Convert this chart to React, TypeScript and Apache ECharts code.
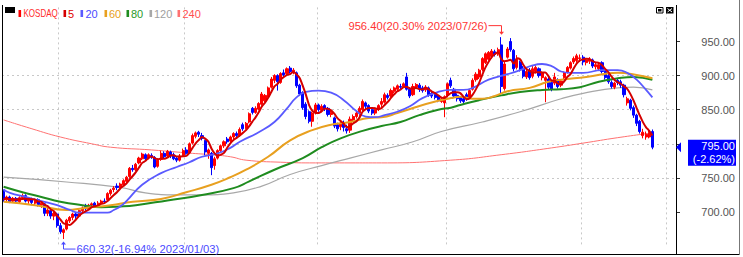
import React, { useEffect, useRef } from "react";
import * as echarts from "echarts";

// trading days shown (year/month -> days)
const dec22Days = [6, 7, 8, 9, 12, 13, 14, 15, 16, 19, 20, 21, 22, 23, 26, 27, 28, 29];
const jan23Days = [2, 3, 4, 5, 6, 9, 10, 11, 12, 13, 16, 17, 18, 19, 20, 25, 26, 27, 30, 31];
const feb23Days = [1, 2, 3, 6, 7, 8, 9, 10, 13, 14, 15, 16, 17, 20, 21, 22, 23, 24, 27, 28];
const mar23Days = [2, 3, 6, 7, 8, 9, 10, 13, 14, 15, 16, 17, 20, 21, 22, 23, 24, 27, 28, 29, 30, 31];
const apr23Days = [3, 4, 5, 6, 7, 10, 11, 12, 13, 14, 17, 18, 19, 20, 21, 24, 25, 26, 27, 28];
const may23Days = [2, 3, 4, 8, 9, 10, 11, 12, 15, 16, 17, 18, 19, 22, 23, 24, 25, 26, 30, 31];
const jun23Days = [1, 2, 5, 7, 8, 9, 12, 13, 14, 15, 16, 19, 20, 21, 22, 23, 26, 27, 28, 29, 30];
const jul23Days = [3, 4, 5, 6, 7, 10, 11, 12, 13, 14, 17, 18, 19, 20, 21, 24, 25, 26, 27, 28, 31];
const aug23Days = [1, 2, 3, 4, 7, 8, 9, 10, 11, 14, 16, 17, 18, 21, 22, 23, 24, 25, 28, 29, 30, 31];
const sep23Days = [1, 4, 5, 6, 7, 8, 11, 12, 13, 14, 15, 18, 19, 20, 21, 22, 25, 26, 27];
const oct23Days = [4, 5, 6, 10];
const emptySlots = 7;

// KOSDAQ daily candles: [open, close, low, high]
const dec22 = [
  [730, 718, 715, 733], [718, 722, 715, 724], [722, 715, 713, 724], [716, 720, 714, 722],
  [720, 716, 713, 722], [715, 721, 713, 723], [721, 724, 718, 727], [724, 716, 714, 726],
  [716, 719, 712, 721], [719, 714, 710, 721], [713, 718, 710, 720], [718, 711, 708, 720],
  [710, 713, 706, 716], [712, 698, 694, 713], [698, 703, 694, 706], [702, 694, 690, 704],
  [694, 698, 688, 700], [697, 680, 677, 699],
];
const jan23 = [
  [680, 671, 668, 684], [670, 674, 660.32, 676], [675, 688, 673, 690], [687, 692, 684, 694],
  [692, 697, 688, 699], [697, 694, 690, 700], [694, 702, 692, 704], [702, 706, 700, 708],
  [708, 705, 702, 712], [705, 710, 703, 712], [710, 712, 707, 714], [713, 709, 706, 715],
  [709, 713, 707, 716], [713, 716, 710, 718], [716, 715, 712, 720], [718, 727, 716, 729],
  [727, 732, 724, 734], [733, 735, 729, 738], [738, 736, 732, 742], [736, 741, 734, 743],
];
const feb23 = [
  [740, 746, 738, 748], [745, 751, 742, 753], [752, 764, 750, 766], [764, 762, 759, 769],
  [762, 770, 760, 772], [772, 779, 770, 781], [778, 785, 776, 787], [784, 778, 775, 786],
  [779, 784, 777, 786], [783, 781, 778, 786], [780, 766, 764, 782], [767, 776, 765, 779],
  [777, 786, 775, 790], [786, 781, 778, 789], [782, 789, 780, 791], [788, 782, 779, 790],
  [784, 778, 776, 787], [779, 776, 773, 782], [776, 782, 774, 785], [783, 790, 781, 793],
];
const mar23 = [
  [791, 786, 784, 795], [787, 800, 786, 802], [801, 812, 799, 815], [811, 816, 808, 818],
  [817, 814, 810, 819], [812, 808, 805, 816], [805, 788, 783, 806], [786, 791, 778, 793],
  [786, 765, 754, 788], [768, 778, 762, 781], [779, 790, 777, 792], [790, 797, 788, 799],
  [797, 803, 794, 805], [807, 803, 800, 810], [804, 810, 800, 812], [810, 815, 807, 817],
  [815, 812, 809, 818], [812, 821, 810, 824], [828, 822, 819, 831], [823, 830, 821, 832],
  [832, 844, 830, 846], [852, 846, 843, 854],
];
const apr23 = [
  [846, 852, 844, 855], [851, 859, 849, 861], [858, 873, 856, 876], [863, 871, 861, 873],
  [870, 882, 868, 884], [883, 895, 881, 898], [893, 900, 889, 902], [900, 891, 878, 902],
  [890, 903, 888, 905], [904, 901, 898, 909], [903, 910, 901, 912], [911, 906, 903, 914],
  [905, 908, 902, 911], [904, 885, 882, 906], [886, 873, 870, 888], [875, 853, 850, 877],
  [858, 840, 836, 861], [847, 833, 830, 849], [833, 845, 825, 847], [846, 857, 843, 860],
];
const may23 = [
  [857, 850, 847, 859], [849, 855, 846, 858], [856, 851, 848, 858], [852, 843, 840, 854],
  [843, 846, 839, 849], [838, 826, 823, 840], [828, 822, 818, 831], [825, 830, 820, 833],
  [831, 824, 818, 834], [822, 819, 815, 828], [820, 836, 816, 840], [835, 840, 832, 843],
  [840, 845, 837, 848], [845, 852, 841, 855], [850, 862, 847, 865], [860, 855, 850, 862],
  [856, 848, 845, 858], [850, 845, 842, 853], [845, 850, 842, 853], [851, 856, 848, 858],
];
const jun23 = [
  [858, 862, 854, 867], [861, 872, 859, 875], [871, 868, 865, 874], [870, 878, 868, 881],
  [877, 882, 874, 884], [880, 885, 876, 887], [884, 883, 880, 888], [884, 888, 882, 890],
  [898, 880, 878, 904], [880, 870, 867, 883], [872, 884, 870, 888], [883, 887, 881, 889],
  [886, 880, 876, 889], [882, 878, 875, 885], [879, 883, 876, 886], [882, 872, 869, 884],
  [874, 870, 867, 877], [872, 868, 865, 874], [870, 863, 861, 872], [862, 866, 860, 869],
  [860, 869, 839, 871],
];
const jul23 = [
  [871, 888, 868, 890], [893, 885, 882, 897], [880, 870, 867, 882], [871, 866, 862, 874],
  [868, 863, 860, 870], [866, 862, 859, 870], [872, 866, 863, 875], [868, 878, 866, 880],
  [880, 893, 878, 896], [894, 902, 891, 905], [898, 908, 895, 910], [909, 925, 906, 927],
  [919, 932, 917, 934], [924, 934, 922, 936], [928, 936, 925, 939], [935, 931, 928, 938],
  [932, 938, 929, 941], [945, 884, 874, 956.4], [881, 917, 878, 920], [927, 939, 925, 942],
  [950, 938, 935, 955],
];
const aug23 = [
  [937, 910, 906, 939], [912, 924, 909, 930], [920, 909, 906, 922], [911, 899, 896, 914],
  [898, 906, 895, 909], [908, 897, 894, 911], [899, 910, 896, 914], [906, 912, 903, 915],
  [910, 900, 897, 912], [897, 904, 893, 906], [893, 897, 861, 899], [895, 883, 880, 898],
  [890, 880, 877, 893], [889, 898, 886, 904], [894, 884, 881, 896], [886, 892, 883, 895],
  [897, 904, 895, 906], [905, 912, 903, 914], [911, 919, 909, 921], [920, 925, 917, 928],
  [922, 929, 919, 932], [925, 926, 920, 931],
];
const sep23 = [
  [927, 920, 915, 930], [919, 923, 915, 926], [921, 924, 917, 927], [923, 914, 911, 925],
  [913, 916, 909, 919], [910, 916, 907, 919], [919, 906, 903, 921], [906, 897, 894, 908],
  [900, 891, 888, 903], [890, 884, 881, 893], [883, 889, 880, 891], [893, 890, 886, 896],
  [891, 886, 882, 894], [886, 872, 868, 888], [860, 866, 856, 869], [864, 852, 849, 866],
  [853, 842, 838, 856], [842, 830, 826, 844], [833, 818, 815, 835],
];
const oct23 = [
  [812, 817, 808, 822], [810, 814, 806, 818], [810, 816.4, 808, 822], [818, 795, 792, 821],
];

// moving averages: [candle index, value]
const ma20Pts = [[0, 733], [2, 728], [7, 722], [12, 716], [17, 710], [21, 703], [24, 699], [28, 699], [33, 699], [35, 703], [37, 708], [39, 716], [44, 740], [50, 757], [55, 766], [59, 773], [63, 781], [68, 786], [72, 794], [75, 803], [81, 817], [86, 832], [90, 852], [93, 868], [96, 876], [100, 878], [104, 875], [108, 864], [112, 848], [115, 840], [118, 839], [121, 842], [125, 847], [129, 855], [133, 867], [138, 876], [142, 879], [146, 879], [149, 882], [154, 894], [160, 902], [164, 908], [168, 915], [171, 917], [174, 914], [177, 906], [180, 904], [184, 904], [190, 908], [195, 908], [198, 904], [201, 894], [204, 879], [206, 868]];
const ma60Pts = [[0, 715], [10, 710], [20, 703], [26, 706], [34, 710], [41, 715], [50, 719], [58, 729], [66, 740], [72, 751], [77, 762], [84, 781], [91, 805], [98, 820], [104, 828], [110, 832], [116, 838], [120, 839], [125, 845], [131, 854], [138, 863], [142, 867], [145, 869], [149, 866], [152, 866], [156, 870], [160, 877], [167, 882], [173, 891], [177, 894], [185, 898], [195, 904], [201, 901], [206, 896]];
const ma80Pts = [[0, 737], [6, 729], [12, 722], [18, 715], [25, 710], [31, 707], [37, 708], [42, 710], [52, 717], [63, 725], [73, 735], [78, 745], [86, 762], [95, 779], [101, 795], [107, 808], [114, 819], [120, 826], [126, 832], [132, 842], [138, 850], [142, 853], [145, 857], [151, 864], [158, 871], [164, 876], [171, 879], [177, 880], [183, 883], [189, 891], [195, 896], [200, 898], [206, 894]];
const ma120Pts = [[0, 751], [20, 744], [37, 736], [45, 728], [55, 725], [63, 725], [73, 728], [82, 738], [91, 755], [101, 768], [110, 779], [120, 791], [130, 803], [139, 818], [152, 832], [164, 847], [177, 866], [184, 874], [195, 882], [200, 883], [206, 879]];
const ma240Pts = [[0, 835], [9, 822], [18, 810], [28, 800], [34, 795], [47, 791], [60, 786], [66, 784], [72, 781], [77, 776], [88, 773], [99, 772], [110, 772], [120, 772], [142, 776], [158, 784], [174, 794], [184, 801], [195, 809], [206, 816]];

const priceTicks = [700, 750, 800, 850, 900, 950];
const legendLabels = ["KOSDAQ", "5", "20", "60", "80", "120", "240"];
const gridMonths = ["2023/01", "2023/03", "2023/05", "2023/07", "2023/09"];

const monthDays: [string, number[]][] = [
  ["2022/12", dec22Days], ["2023/01", jan23Days], ["2023/02", feb23Days], ["2023/03", mar23Days],
  ["2023/04", apr23Days], ["2023/05", may23Days], ["2023/06", jun23Days], ["2023/07", jul23Days],
  ["2023/08", aug23Days], ["2023/09", sep23Days], ["2023/10", oct23Days],
];

const C_UP = "#ff0000";
const C_DN = "#0000ff";
const C_MA5 = "#d40000";
const C_MA20 = "#5a5aff";
const C_MA60 = "#e8a020";
const C_MA80 = "#1f8c1f";
const C_MA120 = "#a8a8a8";
const C_MA240 = "#ff7272";
const FONT = '"Liberation Sans", Arial, sans-serif';

export default function App() {
  const ref = useRef<HTMLDivElement>(null);
  useEffect(() => {
    const el = ref.current!;
    const chart = echarts.init(el, null, { renderer: "svg" });
    const candles = [...dec22, ...jan23, ...feb23, ...mar23, ...apr23, ...may23, ...jun23, ...jul23, ...aug23, ...sep23, ...oct23];
    const dates: string[] = [];
    monthDays.forEach(([m, days]) => days.forEach((d) => dates.push(`${m}/${String(d).padStart(2, "0")}`)));
    const pads = Array.from({ length: emptySlots }, (_, i) => `pad${i}`);
    const categories = [...dates, ...pads];
    const splitAt = new Set<number>();
    gridMonths.forEach((m) => {
      const idx = dates.findIndex((d) => d.startsWith(m));
      if (idx >= 0) splitAt.add(idx);
    });
    splitAt.add(categories.length - 3);

    const closes = candles.map((c) => c[1]);
    const ma5 = closes.map((_, i) => {
      const w = closes.slice(Math.max(0, i - 4), i + 1);
      return [i, +(w.reduce((a, b) => a + b, 0) / w.length).toFixed(2)];
    });

    const maLine = (name: string, data: number[][], color: string, width: number, smooth: number, z: number) => ({
      name, type: "line", data, symbol: "none", smooth, silent: true, z,
      lineStyle: { color, width }, itemStyle: { color },
    });

    const gridLeft = 2;
    const gridRight = 676;
    chart.setOption({
      animation: false,
      backgroundColor: "#ffffff",
      grid: { left: gridLeft, right: 743 - gridRight, top: 7.4, bottom: 10.9, containLabel: false },
      xAxis: {
        type: "category", data: categories, boundaryGap: true,
        axisLine: { show: false }, axisTick: { show: false }, axisLabel: { show: false },
        splitLine: {
          show: true,
          interval: (i: number) => splitAt.has(i),
          lineStyle: { color: "#c8c8c8", type: [2, 3], width: 1 },
        },
      },
      yAxis: {
        type: "value", position: "right", min: 650, max: 1000, interval: 50,
        axisLine: { show: false },
        axisTick: { show: true, inside: false, length: 4, lineStyle: { color: "#333" }, customValues: priceTicks },
        axisLabel: {
          show: true, align: "right", margin: 59, color: "#555", fontSize: 11, fontFamily: FONT,
          customValues: priceTicks,
          formatter: (v: number) => (priceTicks.includes(v) ? v.toFixed(2) : ""),
        },
        splitLine: { show: true, showMinLine: false, showMaxLine: false, lineStyle: { color: "#c8c8c8", type: [2, 3], width: 1 } },
      },
      series: [
        maLine("240", ma240Pts, C_MA240, 1, 0.5, 3),
        maLine("120", ma120Pts, C_MA120, 1.2, 0.5, 3),
        {
          name: "KOSDAQ", type: "candlestick", data: candles, barWidth: 2.6, z: 4, silent: true,
          itemStyle: { color: C_UP, color0: C_DN, borderColor: C_UP, borderColor0: C_DN, borderWidth: 1 },
        },
        maLine("80", ma80Pts, C_MA80, 2, 0.5, 5),
        maLine("60", ma60Pts, C_MA60, 2, 0.5, 5),
        maLine("20", ma20Pts, C_MA20, 1.8, 0.5, 5),
        maLine("5", ma5, C_MA5, 2, 0.25, 6),
      ],
    });

    // annotations computed through the axes
    const px = (i: number, v: number) => chart.convertToPixel({ xAxisIndex: 0, yAxisIndex: 0 }, [i, v]) as number[];
    let maxIdx = 0, minIdx = 0;
    candles.forEach((c, i) => {
      if (c[3] > candles[maxIdx][3]) maxIdx = i;
      if (c[2] < candles[minIdx][2]) minIdx = i;
    });
    const lastIdx = candles.length - 1;
    const last = closes[lastIdx];
    const prev = closes[lastIdx - 1];
    const maxV = candles[maxIdx][3];
    const minV = candles[minIdx][2];
    const pct = (v: number) => ((v / last - 1) * 100).toFixed(2);
    const dayChg = ((last / prev - 1) * 100).toFixed(2);
    const [mx, my] = px(maxIdx, maxV);
    const [nx, ny] = px(minIdx, minV);
    const [, ly] = px(lastIdx, last);
    const mxr = Math.round(mx) + 0.5;
    const nxr = Math.round(nx) + 0.5;
    const maxTip = my - 2.5;
    const maxTextY = maxTip - 9;
    const minTip = ny + 2.5;
    const minTextY = minTip + 7.5;
    const maxColor = "#ff3434";
    const minColor = "#4a4aff";

    const legendColors = [C_UP, C_MA5, C_MA20, C_MA60, C_MA80, C_MA120, C_MA240];
    const legendTextColors = ["#ff2a2a", "#e00000", "#4a4aff", "#e8a020", "#2a9a2a", "#a0a0a0", "#ff5050"];
    const legendSq = [18.5, 63.5, 80.5, 104.5, 126.5, 149.5, 177.5];
    const legendTx = [23.5, 68, 85.5, 109, 131, 154, 182.5];
    const legendEls: any[] = [];
    legendLabels.forEach((lab, i) => {
      legendEls.push({ type: "rect", shape: { x: legendSq[i], y: 10, width: 2.6, height: 7 }, style: { fill: legendColors[i] }, z: 100 });
      legendEls.push({
        type: "text", x: legendTx[i], y: 13.5, scaleX: i === 0 ? 0.73 : 1, z: 100,
        style: { text: lab, x: 0, y: 0, fill: legendTextColors[i], font: `11px ${FONT}`, textAlign: "left", textVerticalAlign: "middle" },
      });
    });

    const boxX = gridRight + 12;
    chart.setOption({
      graphic: [
        // frame
        { type: "line", shape: { x1: 2.5, y1: 5, x2: 2.5, y2: 254.5 }, style: { stroke: "#000", lineWidth: 1 }, z: 100 },
        { type: "line", shape: { x1: 2, y1: 254.5, x2: 740, y2: 254.5 }, style: { stroke: "#000", lineWidth: 1 }, z: 100 },
        { type: "line", shape: { x1: gridRight + 0.5, y1: 5, x2: gridRight + 0.5, y2: 254.5 }, style: { stroke: "#000", lineWidth: 1 }, z: 100 },
        { type: "line", shape: { x1: 739.5, y1: 0, x2: 739.5, y2: 255 }, style: { stroke: "#777", lineWidth: 1 }, z: 100 },
        // top-left black box
        { type: "rect", shape: { x: 5, y: 7, width: 10, height: 6 }, style: { fill: "#000" }, z: 100 },
        // top-right icons
        { type: "rect", shape: { x: 656.5, y: 7.5, width: 6.5, height: 5.5 }, style: { fill: "#fff", stroke: "#000", lineWidth: 1 }, z: 100 },
        { type: "rect", shape: { x: 658, y: 9, width: 3.5, height: 2.5 }, style: { fill: "#000" }, z: 100 },
        { type: "rect", shape: { x: 666, y: 7, width: 7.5, height: 6.5 }, style: { fill: "#000" }, z: 100 },
        { type: "line", shape: { x1: 667.5, y1: 8.5, x2: 672, y2: 12 }, style: { stroke: "#fff", lineWidth: 1 }, z: 101 },
        { type: "line", shape: { x1: 672, y1: 8.5, x2: 667.5, y2: 12 }, style: { stroke: "#fff", lineWidth: 1 }, z: 101 },
        ...legendEls,
        // max annotation
        {
          type: "text", x: mxr - 14, y: maxTextY, scaleX: 1.02, z: 100,
          style: { text: `${maxV.toFixed(2)}(${pct(maxV)}% ${dates[maxIdx]})`, x: 0, y: 0, fill: maxColor, font: `11px ${FONT}`, textAlign: "right", textVerticalAlign: "middle" },
        },
        { type: "polyline", shape: { points: [[mxr - 13, maxTextY], [mxr, maxTextY], [mxr, maxTip - 2]] }, style: { stroke: maxColor, lineWidth: 1, fill: "none" }, z: 100 },
        { type: "polygon", shape: { points: [[mxr - 2.5, maxTip - 3], [mxr + 2.5, maxTip - 3], [mxr, maxTip]] }, style: { fill: maxColor }, z: 100 },
        // min annotation
        { type: "polygon", shape: { points: [[nxr - 2.5, minTip + 3], [nxr + 2.5, minTip + 3], [nxr, minTip]] }, style: { fill: minColor }, z: 100 },
        { type: "polyline", shape: { points: [[nxr, minTip + 2], [nxr, minTextY], [nxr + 12, minTextY]] }, style: { stroke: minColor, lineWidth: 1, fill: "none" }, z: 100 },
        {
          type: "text", x: nxr + 13, y: minTextY, scaleX: 1.02, z: 100,
          style: { text: `${minV.toFixed(2)}(${pct(minV)}% ${dates[minIdx]})`, x: 0, y: 0, fill: minColor, font: `11px ${FONT}`, textAlign: "left", textVerticalAlign: "middle" },
        },
        // current price marker and box
        { type: "polygon", shape: { points: [[gridRight, ly], [gridRight + 5, ly - 5], [gridRight + 5, ly + 5]] }, style: { fill: C_DN }, z: 100 },
        { type: "rect", shape: { x: boxX, y: ly - 7.5, width: 48, height: 26 }, style: { fill: C_DN }, z: 100 },
        {
          type: "text", x: 735, y: ly - 1.5, z: 101,
          style: { text: last.toFixed(2), x: 0, y: 0, fill: "#fff", font: `11px ${FONT}`, textAlign: "right", textVerticalAlign: "middle" },
        },
        {
          type: "text", x: 735, y: ly + 11.5, z: 101,
          style: { text: `(${dayChg}%)`, x: 0, y: 0, fill: "#fff", font: `11px ${FONT}`, textAlign: "right", textVerticalAlign: "middle" },
        },
      ],
    });

    return () => chart.dispose();
  }, []);
  return <div ref={ref} style={{ position: "fixed", left: 0, top: 0, width: 743, height: 257, background: "#fff" }} />;
}
